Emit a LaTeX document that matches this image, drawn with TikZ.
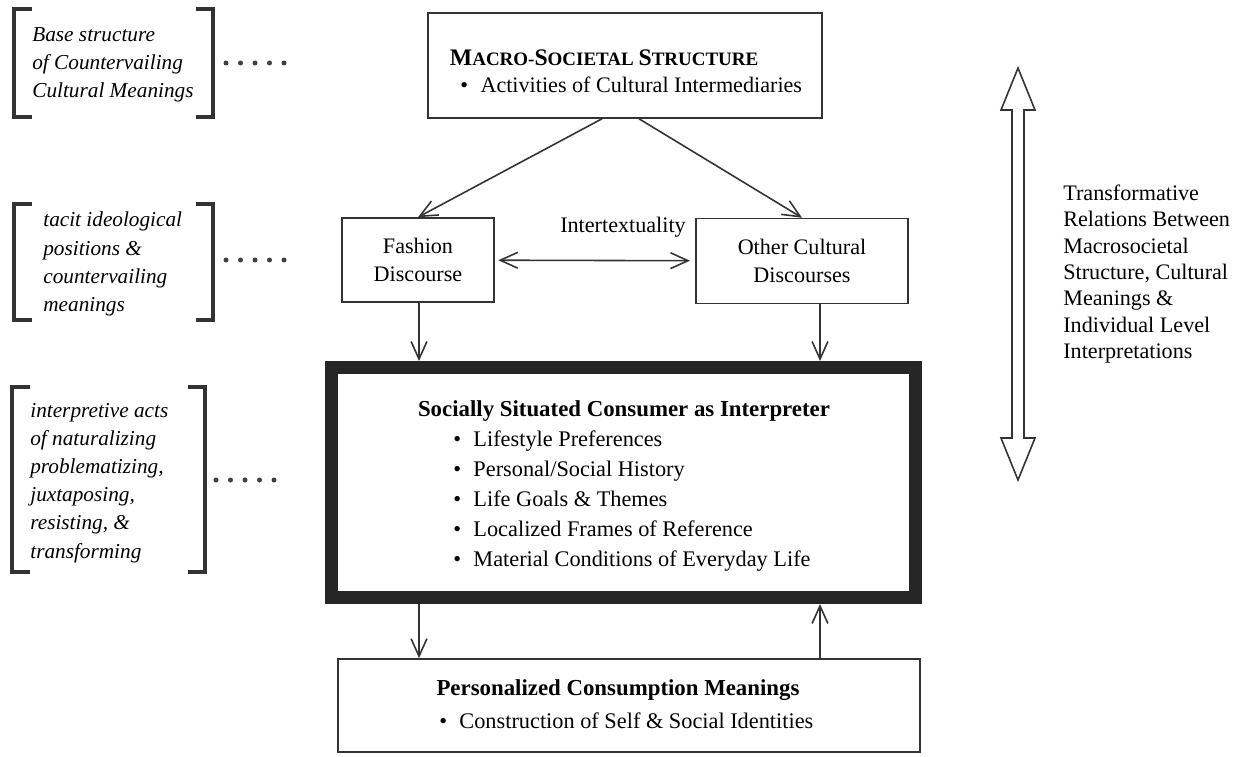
\documentclass[tikz,border=0pt]{standalone}
\usepackage{fontspec}
\setmainfont{Liberation Serif}
\usetikzlibrary{arrows.meta, positioning, calc}

% capital letters of the fake small caps title
\newcommand{\scinit}[1]{{\fontsize{13.5}{15}\selectfont #1}}

\begin{document}
\begin{tikzpicture}[
		x=0.02cm, y=-0.02cm,
		font=\fontsize{12.6}{16}\selectfont,
		% Boxes
		box/.style={draw=black!80, line width=0.9pt, inner sep=0pt},
		framebox/.style={draw=black!85, line width=0.26cm, inner sep=0pt},
		% Connectors
		arr/.style={draw=black!80, line width=0.9pt, -{Straight Barb[length=10pt,width=9pt]}},
		% Side notes
		bracket/.style={draw=black!80, line width=2pt},
		note/.style={font=\itshape\fontsize{12.1}{16}\selectfont, align=left, anchor=west, inner sep=0pt},
		dot/.style={fill=black!75},
		% Text
		head/.style={font=\bfseries\fontsize{13}{17}\selectfont, inner sep=0pt},
		items/.style={align=left, anchor=west, inner sep=0pt, font=\fontsize{12.7}{17}\selectfont}
	]
	\useasboundingbox (0,0) rectangle (1238,757);

	% ==============================================================================
	% MAIN BOXES
	% ==============================================================================
	\node[box, minimum width=7.88cm, minimum height=2.1cm] (macro) at (625,65.5) {};
	\node[align=left, inner sep=0pt, font=\fontsize{12.6}{15.6}\selectfont] (macroText) at (626,71) {
			\textbf{\fontsize{10.8}{15}\selectfont \scinit{M}ACRO-\scinit{S}OCIETAL \scinit{S}TRUCTURE} \\
			\hspace{6pt}\textbullet\hspace{7pt}Activities of Cultural Intermediaries
		};

	\node[box, minimum width=3.04cm, minimum height=1.68cm, align=center] (fashion) at (418,260) {Fashion\\Discourse};
	\node[box, minimum width=4.24cm, minimum height=1.7cm, align=center] (other) at (802,261) {Other Cultural\\Discourses};
	\node (intertext) at (623,227) {Intertextuality};

	\node[framebox, minimum width=11.7cm, minimum height=4.6cm] (consumer) at (623.5,482.5) {};
	\node[head] (consumerTitle) at (624,411) {Socially Situated Consumer as Interpreter};
	\node[items] (consumerItems) at (453,501) {
			\textbullet\hspace{7pt}Lifestyle Preferences \\
			\textbullet\hspace{7pt}Personal/Social History \\
			\textbullet\hspace{7pt}Life Goals \& Themes \\
			\textbullet\hspace{7pt}Localized Frames of Reference \\
			\textbullet\hspace{7pt}Material Conditions of Everyday Life
		};

	\node[box, minimum width=11.64cm, minimum height=1.86cm] (personal) at (629,705.5) {};
	\node[head] (personalTitle) at (618,690) {Personalized Consumption Meanings};
	\node[items] (personalItems) at (439,721) {\textbullet\hspace{7pt}Construction of Self \& Social Identities};

	% lanes of the vertical arrows
	\coordinate (leftLane) at (419,0);
	\coordinate (rightLane) at (820,0);

	% ==============================================================================
	% CONNECTORS
	% ==============================================================================
	\draw[arr] ([xshift=-0.46cm]macro.south) -- (fashion.north);
	\draw[arr] ([xshift=0.28cm]macro.south) -- (other.north);
	\draw[arr, {Straight Barb[length=10pt,width=9pt]}-{Straight Barb[length=10pt,width=9pt]}, shorten <=2pt, shorten >=3pt] (fashion) -- (other);
	\draw[arr] (leftLane |- fashion.south) -- (leftLane |- consumer.north);
	\draw[arr] (rightLane |- other.south) -- (rightLane |- consumer.north);
	\draw[arr] (leftLane |- consumer.south) -- (leftLane |- personal.north);
	\draw[arr] (rightLane |- personal.north) -- (rightLane |- consumer.south);

	% ==============================================================================
	% RIGHT: hollow double arrow
	% ==============================================================================
	\draw[box, fill=white] (1018,68) -- (1035,110) -- (1024,110) -- (1024,438) -- (1035,438) -- (1018,480)
		-- (1001,438) -- (1012,438) -- (1012,110) -- (1001,110) -- cycle;
	\node[align=left, anchor=west, inner sep=0pt, font=\fontsize{12.6}{15}\selectfont] (relations) at (1063,274) {
			Transformative \\
			Relations Between \\
			Macrosocietal \\
			Structure, Cultural \\
			Meanings \& \\
			Individual Level \\
			Interpretations
		};

	% ==============================================================================
	% LEFT: bracketed notes
	% ==============================================================================
	\draw[bracket] (32,9) -- (14,9) -- (14,117) -- (32,117);
	\draw[bracket] (196,9) -- (213,9) -- (213,117) -- (196,117);
	\node[note] (noteBase) at (32,65) {Base structure\\of Countervailing\\Cultural Meanings};

	\draw[bracket] (32,204) -- (14,204) -- (14,320) -- (32,320);
	\draw[bracket] (196,204) -- (213,204) -- (213,320) -- (196,320);
	\node[note] (noteTacit) at (43,264) {tacit ideological\\positions \&\\countervailing\\meanings};

	\draw[bracket] (30,387) -- (12,387) -- (12,572) -- (30,572);
	\draw[bracket] (188,387) -- (205,387) -- (205,572) -- (188,572);
	\node[note] (noteActs) at (30,483) {interpretive acts\\of naturalizing\\problematizing,\\juxtaposing,\\resisting, \&\\transforming};

	\foreach \x/\y in {226/63, 226/260, 216/480}
		\foreach \i in {0,...,4}
			\fill[dot] (\x+\i*14.5,\y) circle (0.05cm);
\end{tikzpicture}
\end{document}
